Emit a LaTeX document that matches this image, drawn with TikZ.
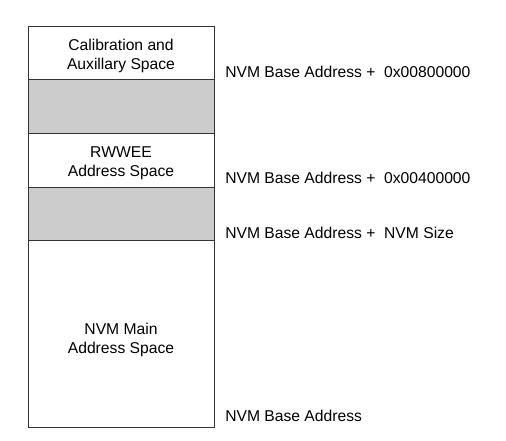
\documentclass[tikz,border=0pt]{standalone}
\usepackage{fontspec}
\setmainfont{Liberation Sans}
\usetikzlibrary{calc,positioning}
\definecolor{Rule}{HTML}{333333}
\definecolor{Gap}{HTML}{CCCCCC}
\tikzset{
  region/.style={
    draw=Rule, line width=0.75pt, fill=white, outer sep=0pt,
    minimum width=139.5pt, minimum height=39.75pt, align=center,
    text height=27pt, font=\fontsize{11.75}{14.25}\selectfont
  },
  reserved/.style={region, fill=Gap},
  addr/.style={anchor=west, inner sep=0pt, font=\fontsize{11.75}{14.25}\selectfont}
}

\begin{document}
\begin{tikzpicture}[x=0.75pt,y=0.75pt,node distance=0pt]
        \useasboundingbox (0,0) rectangle (506,440);
        \node[region] (cal) at (121,386.5) {Calibration and\\Auxillary Space};
        \node[reserved,below=of cal] (gap1) {};
        \node[region,below=of gap1,minimum height=40.5pt] (rwwee) {RWWEE\\Address Space};
        \node[reserved,below=of rwwee] (gap2) {};
        \node[region,below=of gap2,minimum height=140.25pt,text height=33pt] (main) {NVM Main\\Address Space};
        \node[addr] (a800) at ($(cal.south east)+(11,8)$) {NVM Base Address +\ \ 0x00800000};
        \node[addr] (a400) at ($(rwwee.south east)+(11,9)$) {NVM Base Address +\ \ 0x00400000};
        \node[addr] (asize) at ($(gap2.south east)+(11,7)$) {NVM Base Address +\ \ NVM Size};
        \node[addr] (abase) at ($(main.south east)+(11,11)$) {NVM Base Address};
      \end{tikzpicture}
\end{document}
